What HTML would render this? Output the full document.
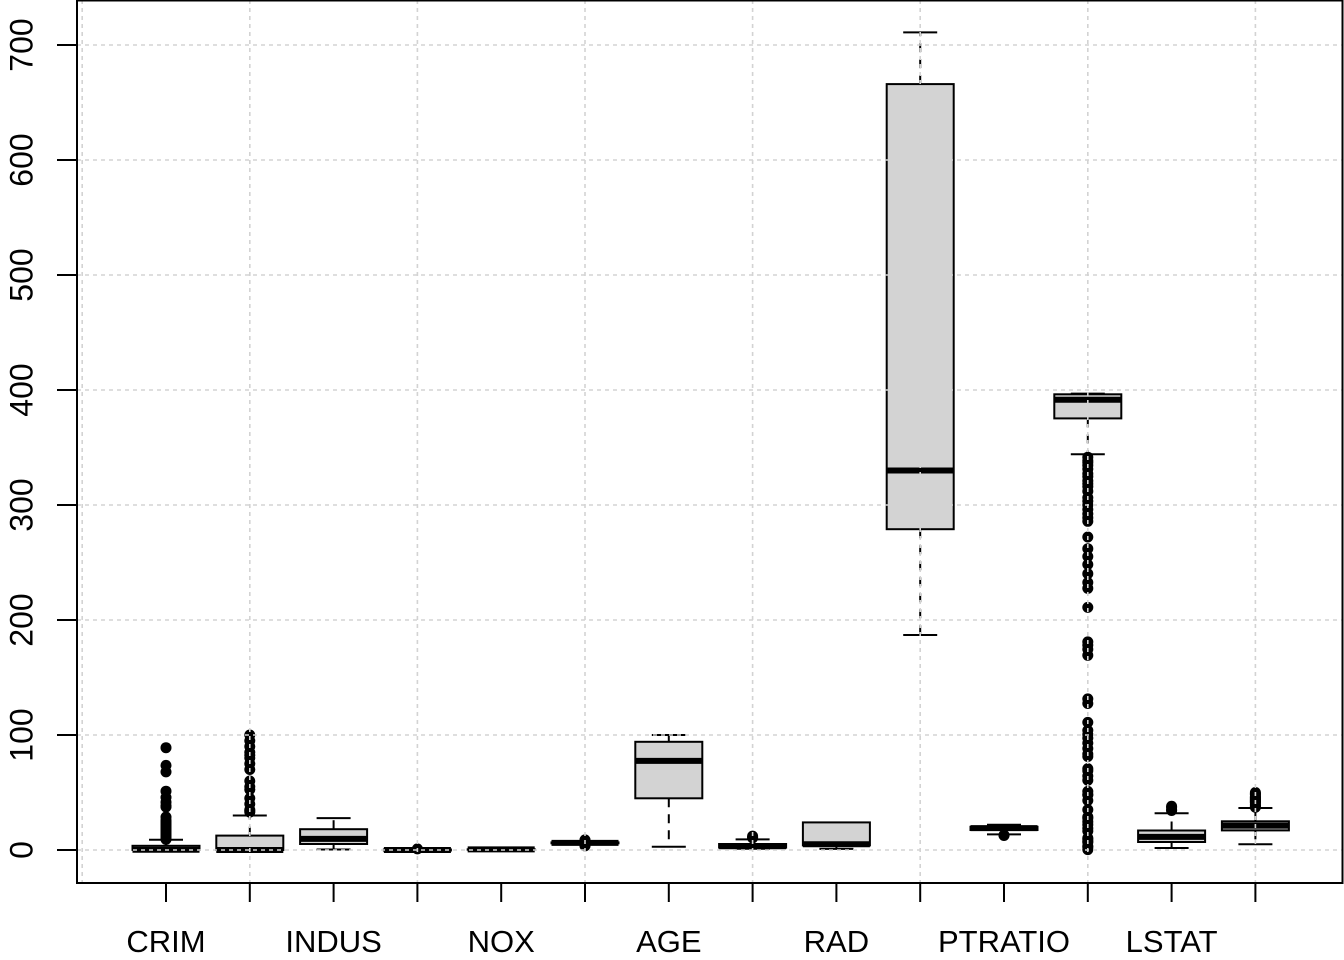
<!DOCTYPE html>
<html><head><meta charset="utf-8"><style>
html,body{margin:0;padding:0;background:#fff;}
svg{display:block;}
text{font-family:"Liberation Sans",Arial,sans-serif;fill:#000;}
</style></head><body>
<svg width="1344" height="960" viewBox="0 0 1344 960" xmlns="http://www.w3.org/2000/svg">
<rect width="1344" height="960" fill="#fff"/>

<!-- ===== Boxes ===== -->
<g stroke="#000" stroke-width="2" fill="#d3d3d3">
<!-- CRIM -->
<line x1="166" y1="849.9" x2="166" y2="850" stroke-dasharray="9 7"/>
<line x1="166" y1="845.8" x2="166" y2="839.7" stroke-dasharray="9 7"/>
<line x1="149" y1="839.7" x2="183" y2="839.7"/>
<line x1="149" y1="850" x2="183" y2="850"/>
<rect x="132.5" y="845.8" width="67" height="4.1"/>
<!-- ZN -->
<line x1="249.8" y1="835.6" x2="249.8" y2="815.5" stroke-dasharray="9 7"/>
<line x1="232.8" y1="815.5" x2="266.8" y2="815.5"/>
<line x1="232.8" y1="850" x2="266.8" y2="850"/>
<rect x="216.3" y="835.6" width="67" height="14.4"/>
<!-- INDUS -->
<line x1="333.6" y1="844" x2="333.6" y2="849.5" stroke-dasharray="9 7"/>
<line x1="333.6" y1="829.2" x2="333.6" y2="818.1" stroke-dasharray="9 7"/>
<line x1="316.6" y1="818.1" x2="350.6" y2="818.1"/>
<line x1="316.6" y1="849.5" x2="350.6" y2="849.5"/>
<rect x="300.1" y="829.2" width="67" height="14.8"/>
<!-- CHAS -->
<line x1="400.4" y1="850" x2="434.4" y2="850"/>
<rect x="383.9" y="849.5" width="67" height="1"/>
<!-- NOX -->
<line x1="484.2" y1="849" x2="518.2" y2="849"/>
<line x1="484.2" y1="849.6" x2="518.2" y2="849.6"/>
<rect x="467.7" y="849.3" width="67" height="0.4"/>
<!-- RM -->
<line x1="568" y1="841.2" x2="602" y2="841.2"/>
<line x1="568" y1="844.4" x2="602" y2="844.4"/>
<rect x="551.5" y="842.4" width="67" height="0.9"/>
<!-- AGE -->
<line x1="668.8" y1="798.3" x2="668.8" y2="846.7" stroke-dasharray="9 7"/>
<line x1="668.8" y1="741.8" x2="668.8" y2="735" stroke-dasharray="9 7"/>
<line x1="651.8" y1="735" x2="685.8" y2="735"/>
<line x1="651.8" y1="846.7" x2="685.8" y2="846.7"/>
<rect x="635.3" y="741.8" width="67" height="56.5"/>
<!-- DIS -->
<line x1="752.6" y1="844" x2="752.6" y2="839.4" stroke-dasharray="9 7"/>
<line x1="735.6" y1="839.4" x2="769.6" y2="839.4"/>
<line x1="735.6" y1="848.7" x2="769.6" y2="848.7"/>
<rect x="719.1" y="844" width="67" height="3.6"/>
<!-- RAD -->
<line x1="819.4" y1="848.9" x2="853.4" y2="848.9"/>
<line x1="836.4" y1="845.4" x2="836.4" y2="848.9" stroke-dasharray="9 7"/>
<rect x="802.9" y="822.4" width="67" height="23"/>
<!-- TAX -->
<line x1="920.2" y1="529.2" x2="920.2" y2="635" stroke-dasharray="9 7"/>
<line x1="920.2" y1="84.1" x2="920.2" y2="32.4" stroke-dasharray="9 7"/>
<line x1="903.2" y1="32.4" x2="937.2" y2="32.4"/>
<line x1="903.2" y1="635" x2="937.2" y2="635"/>
<rect x="886.7" y="84.1" width="67" height="445.1"/>
<!-- PTRATIO -->
<line x1="987" y1="824.7" x2="1021" y2="824.7"/>
<line x1="987" y1="834.4" x2="1021" y2="834.4"/>
<rect x="970.5" y="826.8" width="67" height="3.2"/>
<!-- B -->
<line x1="1087.8" y1="418.4" x2="1087.8" y2="454.3" stroke-dasharray="9 7"/>
<line x1="1070.8" y1="454.3" x2="1104.8" y2="454.3"/>
<line x1="1070.8" y1="393.6" x2="1104.8" y2="393.6"/>
<rect x="1054.3" y="394.3" width="67" height="24.1"/>
<!-- LSTAT -->
<line x1="1171.6" y1="842" x2="1171.6" y2="848" stroke-dasharray="9 7"/>
<line x1="1171.6" y1="830.5" x2="1171.6" y2="813.2" stroke-dasharray="9 7"/>
<line x1="1154.6" y1="813.2" x2="1188.6" y2="813.2"/>
<line x1="1154.6" y1="848" x2="1188.6" y2="848"/>
<rect x="1138.1" y="830.5" width="67" height="11.5"/>
<!-- MEDV -->
<line x1="1255.4" y1="830.4" x2="1255.4" y2="844.3" stroke-dasharray="9 7"/>
<line x1="1255.4" y1="821.3" x2="1255.4" y2="808" stroke-dasharray="9 7"/>
<line x1="1238.4" y1="808" x2="1272.4" y2="808"/>
<line x1="1238.4" y1="844.3" x2="1272.4" y2="844.3"/>
<rect x="1221.9" y="821.3" width="67" height="9.1"/>
</g>

<!-- medians -->
<g stroke="#000" stroke-width="6">
<line x1="132.5" y1="849.7" x2="199.5" y2="849.7"/>
<line x1="216.3" y1="850" x2="283.3" y2="850"/>
<line x1="300.1" y1="838.9" x2="367.1" y2="838.9"/>
<line x1="383.9" y1="850" x2="450.9" y2="850"/>
<line x1="467.7" y1="849.4" x2="534.7" y2="849.4"/>
<line x1="551.5" y1="842.9" x2="618.5" y2="842.9"/>
<line x1="635.3" y1="760.9" x2="702.3" y2="760.9"/>
<line x1="719.1" y1="846.3" x2="786.1" y2="846.3"/>
<line x1="802.9" y1="844.3" x2="869.9" y2="844.3"/>
<line x1="886.7" y1="470.5" x2="953.7" y2="470.5"/>
<line x1="970.5" y1="828.1" x2="1037.5" y2="828.1"/>
<line x1="1054.3" y1="399.8" x2="1121.3" y2="399.8"/>
<line x1="1138.1" y1="836.9" x2="1205.1" y2="836.9"/>
<line x1="1221.9" y1="825.6" x2="1288.9" y2="825.6"/>
</g>

<!-- outliers -->
<g fill="#000">
<!-- CRIM -->
<circle cx="166" cy="839.4" r="5.5"/><circle cx="166" cy="838.6" r="5.5"/><circle cx="166" cy="837.5" r="5.5"/><circle cx="166" cy="836.4" r="5.5"/><circle cx="166" cy="835.3" r="5.5"/><circle cx="166" cy="834.3" r="5.5"/><circle cx="166" cy="833.4" r="5.5"/><circle cx="166" cy="832.4" r="5.5"/><circle cx="166" cy="831" r="5.5"/><circle cx="166" cy="829.5" r="5.5"/><circle cx="166" cy="828.4" r="5.5"/><circle cx="166" cy="827.2" r="5.5"/><circle cx="166" cy="826.2" r="5.5"/><circle cx="166" cy="824.6" r="5.5"/><circle cx="166" cy="823.4" r="5.5"/><circle cx="166" cy="822" r="5.5"/><circle cx="166" cy="820.2" r="5.5"/><circle cx="166" cy="817" r="5.5"/><circle cx="166" cy="807" r="5.5"/><circle cx="166" cy="805.9" r="5.5"/><circle cx="166" cy="802.2" r="5.5"/><circle cx="166" cy="797.4" r="5.5"/><circle cx="166" cy="791.2" r="5.5"/><circle cx="166" cy="771.9" r="5.5"/><circle cx="166" cy="765.4" r="5.5"/><circle cx="166" cy="747.7" r="5.5"/>
<!-- ZN -->
<circle cx="249.8" cy="812.1" r="5.5"/><circle cx="249.8" cy="810.9" r="5.5"/><circle cx="249.8" cy="809.8" r="5.5"/><circle cx="249.8" cy="804" r="5.5"/><circle cx="249.8" cy="798.3" r="5.5"/><circle cx="249.8" cy="789.6" r="5.5"/><circle cx="249.8" cy="786.8" r="5.5"/><circle cx="249.8" cy="781" r="5.5"/><circle cx="249.8" cy="769.5" r="5.5"/><circle cx="249.8" cy="763.8" r="5.5"/><circle cx="249.8" cy="758" r="5.5"/><circle cx="249.8" cy="755.1" r="5.5"/><circle cx="249.8" cy="752.3" r="5.5"/><circle cx="249.8" cy="746.5" r="5.5"/><circle cx="249.8" cy="740.8" r="5.5"/><circle cx="249.8" cy="735" r="5.5"/>
<!-- CHAS -->
<circle cx="417.4" cy="848.9" r="5.5"/>
<!-- RM -->
<circle cx="585" cy="845.9" r="5.5"/><circle cx="585" cy="845.2" r="5.5"/><circle cx="585" cy="844.8" r="5.5"/><circle cx="585" cy="841" r="5.5"/><circle cx="585" cy="840.5" r="5.5"/><circle cx="585" cy="839.9" r="5.5"/>
<!-- DIS -->
<circle cx="752.6" cy="837.8" r="5.5"/><circle cx="752.6" cy="837.7" r="5.5"/><circle cx="752.6" cy="836.1" r="5.5"/>
<!-- PTRATIO -->
<circle cx="1004" cy="835.5" r="5.5"/><circle cx="1004" cy="835.1" r="5.5"/>
<!-- B -->
<circle cx="1087.8" cy="457.2" r="5.5"/><circle cx="1087.8" cy="460.6" r="5.5"/><circle cx="1087.8" cy="462.6" r="5.5"/><circle cx="1087.8" cy="465.4" r="5.5"/><circle cx="1087.8" cy="469" r="5.5"/><circle cx="1087.8" cy="473.7" r="5.5"/><circle cx="1087.8" cy="476.6" r="5.5"/><circle cx="1087.8" cy="480.9" r="5.5"/><circle cx="1087.8" cy="483.8" r="5.5"/><circle cx="1087.8" cy="486.6" r="5.5"/><circle cx="1087.8" cy="491.2" r="5.5"/><circle cx="1087.8" cy="497.6" r="5.5"/><circle cx="1087.8" cy="501.1" r="5.5"/><circle cx="1087.8" cy="505" r="5.5"/><circle cx="1087.8" cy="509.3" r="5.5"/><circle cx="1087.8" cy="513.9" r="5.5"/><circle cx="1087.8" cy="517.7" r="5.5"/><circle cx="1087.8" cy="521.3" r="5.5"/>
<circle cx="1087.8" cy="537" r="5.5"/>
<circle cx="1087.8" cy="548.7" r="5.5"/><circle cx="1087.8" cy="556.5" r="5.5"/><circle cx="1087.8" cy="564.5" r="5.5"/><circle cx="1087.8" cy="573.7" r="5.5"/><circle cx="1087.8" cy="582.5" r="5.5"/><circle cx="1087.8" cy="588.3" r="5.5"/>
<circle cx="1087.8" cy="607.4" r="5.5"/>
<circle cx="1087.8" cy="641.9" r="5.5"/><circle cx="1087.8" cy="645.1" r="5.5"/><circle cx="1087.8" cy="649.3" r="5.5"/><circle cx="1087.8" cy="655.3" r="5.5"/>
<circle cx="1087.8" cy="698.9" r="5.5"/><circle cx="1087.8" cy="703.5" r="5.5"/>
<circle cx="1087.8" cy="722.4" r="5.5"/><circle cx="1087.8" cy="730.4" r="5.5"/><circle cx="1087.8" cy="734.5" r="5.5"/><circle cx="1087.8" cy="738.1" r="5.5"/><circle cx="1087.8" cy="743.1" r="5.5"/><circle cx="1087.8" cy="748.5" r="5.5"/><circle cx="1087.8" cy="754" r="5.5"/><circle cx="1087.8" cy="756.5" r="5.5"/><circle cx="1087.8" cy="768.6" r="5.5"/><circle cx="1087.8" cy="770.7" r="5.5"/><circle cx="1087.8" cy="776" r="5.5"/><circle cx="1087.8" cy="780.2" r="5.5"/><circle cx="1087.8" cy="791.4" r="5.5"/><circle cx="1087.8" cy="794.3" r="5.5"/><circle cx="1087.8" cy="795.1" r="5.5"/><circle cx="1087.8" cy="800.5" r="5.5"/><circle cx="1087.8" cy="809.7" r="5.5"/><circle cx="1087.8" cy="816.9" r="5.5"/><circle cx="1087.8" cy="818.4" r="5.5"/><circle cx="1087.8" cy="821.7" r="5.5"/><circle cx="1087.8" cy="824.7" r="5.5"/><circle cx="1087.8" cy="828.4" r="5.5"/><circle cx="1087.8" cy="831.1" r="5.5"/><circle cx="1087.8" cy="838" r="5.5"/><circle cx="1087.8" cy="839.3" r="5.5"/><circle cx="1087.8" cy="841.2" r="5.5"/><circle cx="1087.8" cy="842.3" r="5.5"/><circle cx="1087.8" cy="846" r="5.5"/><circle cx="1087.8" cy="847.1" r="5.5"/><circle cx="1087.8" cy="849.6" r="5.5"/>
<!-- LSTAT -->
<circle cx="1171.6" cy="810.5" r="5.5"/><circle cx="1171.6" cy="810" r="5.5"/><circle cx="1171.6" cy="807.5" r="5.5"/><circle cx="1171.6" cy="806.3" r="5.5"/>
<!-- MEDV -->
<circle cx="1255.4" cy="807.2" r="5.5"/><circle cx="1255.4" cy="806.8" r="5.5"/><circle cx="1255.4" cy="805.5" r="5.5"/><circle cx="1255.4" cy="804.2" r="5.5"/><circle cx="1255.4" cy="802.5" r="5.5"/><circle cx="1255.4" cy="802.1" r="5.5"/><circle cx="1255.4" cy="801.4" r="5.5"/><circle cx="1255.4" cy="800.8" r="5.5"/><circle cx="1255.4" cy="800" r="5.5"/><circle cx="1255.4" cy="799.4" r="5.5"/><circle cx="1255.4" cy="798.5" r="5.5"/><circle cx="1255.4" cy="797.8" r="5.5"/><circle cx="1255.4" cy="797.1" r="5.5"/><circle cx="1255.4" cy="796.3" r="5.5"/><circle cx="1255.4" cy="794.5" r="5.5"/><circle cx="1255.4" cy="793.9" r="5.5"/><circle cx="1255.4" cy="792.5" r="5.5"/>
</g>

<!-- ===== Grid (drawn on top, lightgray dotted) ===== -->
<g stroke="#d3d3d3" stroke-width="1.6" stroke-dasharray="4 4" fill="none">
<line x1="77" y1="850" x2="1343" y2="850"/>
<line x1="77" y1="735" x2="1343" y2="735"/>
<line x1="77" y1="620" x2="1343" y2="620"/>
<line x1="77" y1="505" x2="1343" y2="505"/>
<line x1="77" y1="390" x2="1343" y2="390"/>
<line x1="77" y1="275" x2="1343" y2="275"/>
<line x1="77" y1="160" x2="1343" y2="160"/>
<line x1="77" y1="45" x2="1343" y2="45"/>
<line x1="82.2" y1="0" x2="82.2" y2="883"/>
<line x1="249.8" y1="0" x2="249.8" y2="883"/>
<line x1="417.4" y1="0" x2="417.4" y2="883"/>
<line x1="585" y1="0" x2="585" y2="883"/>
<line x1="752.6" y1="0" x2="752.6" y2="883"/>
<line x1="920.2" y1="0" x2="920.2" y2="883"/>
<line x1="1087.8" y1="0" x2="1087.8" y2="883"/>
<line x1="1255.4" y1="0" x2="1255.4" y2="883"/>
</g>

<!-- ===== Frame & axes ===== -->
<rect x="77" y="0.5" width="1265.5" height="882.5" fill="none" stroke="#000" stroke-width="2"/>
<g stroke="#000" stroke-width="2">
<line x1="57" y1="850" x2="77" y2="850"/>
<line x1="57" y1="735" x2="77" y2="735"/>
<line x1="57" y1="620" x2="77" y2="620"/>
<line x1="57" y1="505" x2="77" y2="505"/>
<line x1="57" y1="390" x2="77" y2="390"/>
<line x1="57" y1="275" x2="77" y2="275"/>
<line x1="57" y1="160" x2="77" y2="160"/>
<line x1="57" y1="45" x2="77" y2="45"/>
<line x1="166" y1="883" x2="166" y2="902"/>
<line x1="249.8" y1="883" x2="249.8" y2="902"/>
<line x1="333.6" y1="883" x2="333.6" y2="902"/>
<line x1="417.4" y1="883" x2="417.4" y2="902"/>
<line x1="501.2" y1="883" x2="501.2" y2="902"/>
<line x1="585" y1="883" x2="585" y2="902"/>
<line x1="668.8" y1="883" x2="668.8" y2="902"/>
<line x1="752.6" y1="883" x2="752.6" y2="902"/>
<line x1="836.4" y1="883" x2="836.4" y2="902"/>
<line x1="920.2" y1="883" x2="920.2" y2="902"/>
<line x1="1004" y1="883" x2="1004" y2="902"/>
<line x1="1087.8" y1="883" x2="1087.8" y2="902"/>
<line x1="1171.6" y1="883" x2="1171.6" y2="902"/>
<line x1="1255.4" y1="883" x2="1255.4" y2="902"/>
</g>

<!-- y labels -->
<g font-size="32" text-anchor="middle">
<text transform="translate(32.5,850) rotate(-90)">0</text>
<text transform="translate(32.5,735) rotate(-90)">100</text>
<text transform="translate(32.5,620) rotate(-90)">200</text>
<text transform="translate(32.5,505) rotate(-90)">300</text>
<text transform="translate(32.5,390) rotate(-90)">400</text>
<text transform="translate(32.5,275) rotate(-90)">500</text>
<text transform="translate(32.5,160) rotate(-90)">600</text>
<text transform="translate(32.5,45) rotate(-90)">700</text>
</g>

<!-- x labels -->
<g font-size="31" text-anchor="middle">
<text x="166" y="952">CRIM</text>
<text x="333.6" y="952">INDUS</text>
<text x="501.2" y="952">NOX</text>
<text x="668.8" y="952">AGE</text>
<text x="836.4" y="952">RAD</text>
<text x="1004" y="952">PTRATIO</text>
<text x="1171.6" y="952">LSTAT</text>
</g>
</svg>
</body></html>
